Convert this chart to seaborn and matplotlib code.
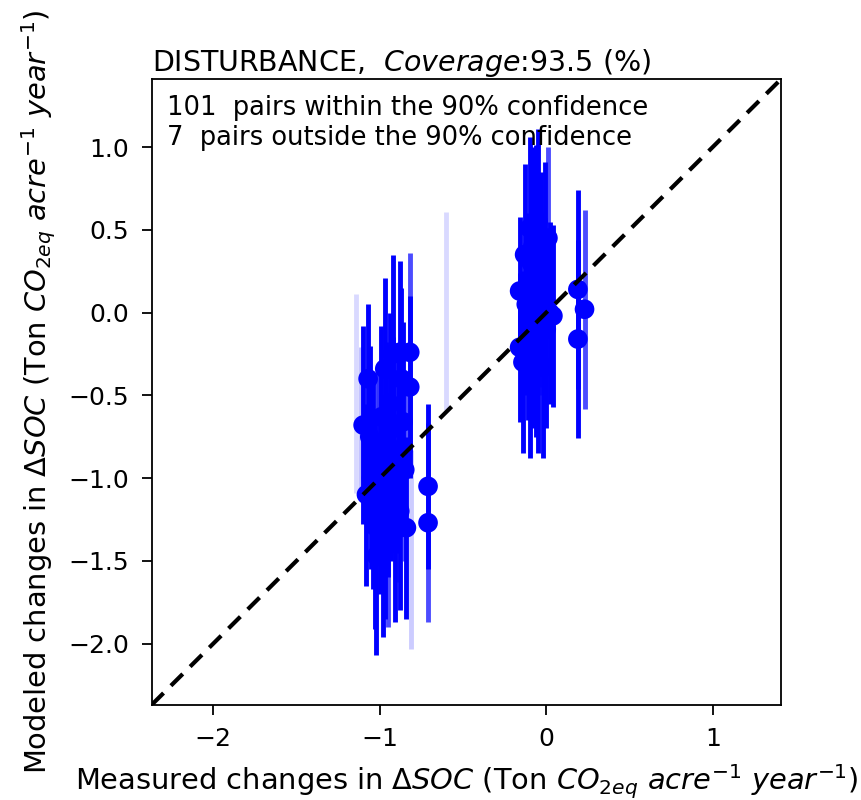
import numpy as np
import pandas as pd
import matplotlib
matplotlib.use("Agg")
import matplotlib.pyplot as plt
import seaborn as sns

# Measured (x), modeled (y), half-width of the 90% interval, and bar opacity
measured = [-1.10, -1.14, -1.07, -1.05, -1.04, -1.03, -1.02, -1.01, -0.99, -0.98,
            -0.97, -0.96, -0.95, -0.93, -0.92, -0.91, -0.90, -0.88, -0.88, -0.86,
            -0.85, -0.84, -0.82, -0.82, -0.81, -0.71, -0.71, -0.60, -1.08, -1.11,
            -1.06, -1.00, -0.97, -0.94, -0.92, -0.89, -0.87, -1.04, -0.95,
            -0.16, -0.16, -0.14, -0.12, -0.10, -0.10, -0.09, -0.08, -0.07, -0.06,
            -0.05, -0.05, -0.04, -0.03, -0.02, -0.01, 0.00, 0.01, 0.02, 0.04,
            -0.13, -0.11, -0.06, -0.03, -0.08,
            0.19, 0.19, 0.23]
modeled = [-0.68, -0.49, -0.40, -1.00, -1.17, -1.29, -1.47, -0.85, -0.63, -1.41,
           -0.34, -0.78, -1.05, -0.90, -0.25, -1.32, -1.08, -0.24, -1.20, -0.66,
           -0.95, -1.30, -0.24, -0.45, -1.43, -1.05, -1.27, 0.01, -1.10, -0.66,
           -0.75, -1.15, -1.25, -0.55, -0.70, -0.85, -0.40, -0.95, -1.40,
           0.13, -0.21, -0.30, 0.05, 0.51, -0.33, 0.30, -0.10, 0.20, 0.46,
           -0.25, 0.55, 0.10, 0.25, -0.33, 0.36, -0.10, 0.45, 0.00, -0.02,
           0.35, -0.05, -0.15, 0.05, 0.40,
           0.14, -0.16, 0.02]
half_ci = [0.60, 0.60, 0.45, 0.55, 0.50, 0.62, 0.60, 0.50, 0.55, 0.55,
           0.55, 0.60, 0.55, 0.60, 0.60, 0.55, 0.55, 0.55, 0.60, 0.60,
           0.55, 0.55, 0.60, 0.55, 0.60, 0.50, 0.60, 0.60, 0.55, 0.45,
           0.55, 0.55, 0.60, 0.55, 0.55, 0.60, 0.55, 0.55, 0.50,
           0.45, 0.45, 0.55, 0.55, 0.55, 0.55, 0.60, 0.60, 0.55, 0.55,
           0.60, 0.56, 0.55, 0.60, 0.55, 0.55, 0.60, 0.55, 0.55, 0.55,
           0.55, 0.60, 0.60, 0.55, 0.60,
           0.60, 0.60, 0.60]
bar_alpha = [1.0, 0.15, 1.0, 1.0, 1.0, 1.0, 1.0, 0.8, 1.0, 1.0,
             1.0, 1.0, 1.0, 1.0, 1.0, 1.0, 0.7, 1.0, 1.0, 1.0,
             0.7, 1.0, 0.7, 1.0, 0.2, 1.0, 0.7, 0.15, 1.0, 0.25,
             1.0, 1.0, 1.0, 1.0, 1.0, 1.0, 1.0, 1.0, 0.7,
             1.0, 1.0, 1.0, 1.0, 1.0, 1.0, 1.0, 1.0, 1.0, 1.0,
             1.0, 1.0, 0.7, 1.0, 1.0, 1.0, 1.0, 0.7, 1.0, 1.0,
             1.0, 1.0, 1.0, 0.7, 1.0,
             1.0, 1.0, 0.7]

title_text = "DISTURBANCE,  $Coverage$:93.5 (%)"
n_inside, n_outside = 101, 7
lims = (-2.37, 1.41)

df = pd.DataFrame({"measured": measured, "modeled": modeled,
                   "half": half_ci, "alpha": bar_alpha})

sns.set_style("ticks")
plt.rcParams["font.family"] = ["DejaVu Sans"]
plt.rcParams["mathtext.fontset"] = "dejavusans"
plt.rcParams["text.color"] = "black"
plt.rcParams["axes.labelcolor"] = "black"

fig = plt.figure(figsize=(8.62, 8.0), dpi=100)
ax = fig.add_axes([0.176, 0.119, 0.730, 0.782])

for _, r in df.iterrows():
    ax.vlines(r["measured"], r["modeled"] - r["half"], r["modeled"] + r["half"],
              color="blue", alpha=r["alpha"], lw=3.5, zorder=2)

pts = df[df["alpha"] >= 0.5]
sns.scatterplot(data=pts, x="measured", y="modeled", ax=ax, color="blue",
                s=200, edgecolor="none", linewidth=0, zorder=3, legend=False)

ax.plot(lims, lims, color="black", ls="--", lw=3, dashes=(4, 2.5), zorder=4)
ax.set_xlim(lims)
ax.set_ylim(lims)
ax.set_xticks([-2, -1, 0, 1])
ax.set_yticks([-2.0, -1.5, -1.0, -0.5, 0.0, 0.5, 1.0])
ax.set_yticklabels(["\u22122.0", "\u22121.5", "\u22121.0", "\u22120.5", "0.0", "0.5", "1.0"])
ax.set_xticklabels(["\u22122", "\u22121", "0", "1"])
ax.tick_params(labelsize=18, length=7, width=1.3, pad=9, direction="out", colors="black")
for sp in ax.spines.values():
    sp.set_linewidth(1.3)
    sp.set_color("black")

ax.set_xlabel("Measured changes in $\\Delta SOC$ (Ton $CO_{2eq}$ $acre^{-1}$ $year^{-1}$)",
              fontsize=20.8, labelpad=8)
ax.set_ylabel("Modeled changes in $\\Delta SOC$ (Ton $CO_{2eq}$ $acre^{-1}$ $year^{-1}$)",
              fontsize=20.8, labelpad=8)
ax.set_title(title_text, loc="left", fontsize=20.5, pad=5)
ax.text(0.025, 0.975, f"{n_inside}  pairs within the 90% confidence", transform=ax.transAxes,
        fontsize=18.5, va="top", ha="left")
ax.text(0.025, 0.927, f"{n_outside}  pairs outside the 90% confidence", transform=ax.transAxes,
        fontsize=18.5, va="top", ha="left")

fig.savefig("out.png", dpi=100)
